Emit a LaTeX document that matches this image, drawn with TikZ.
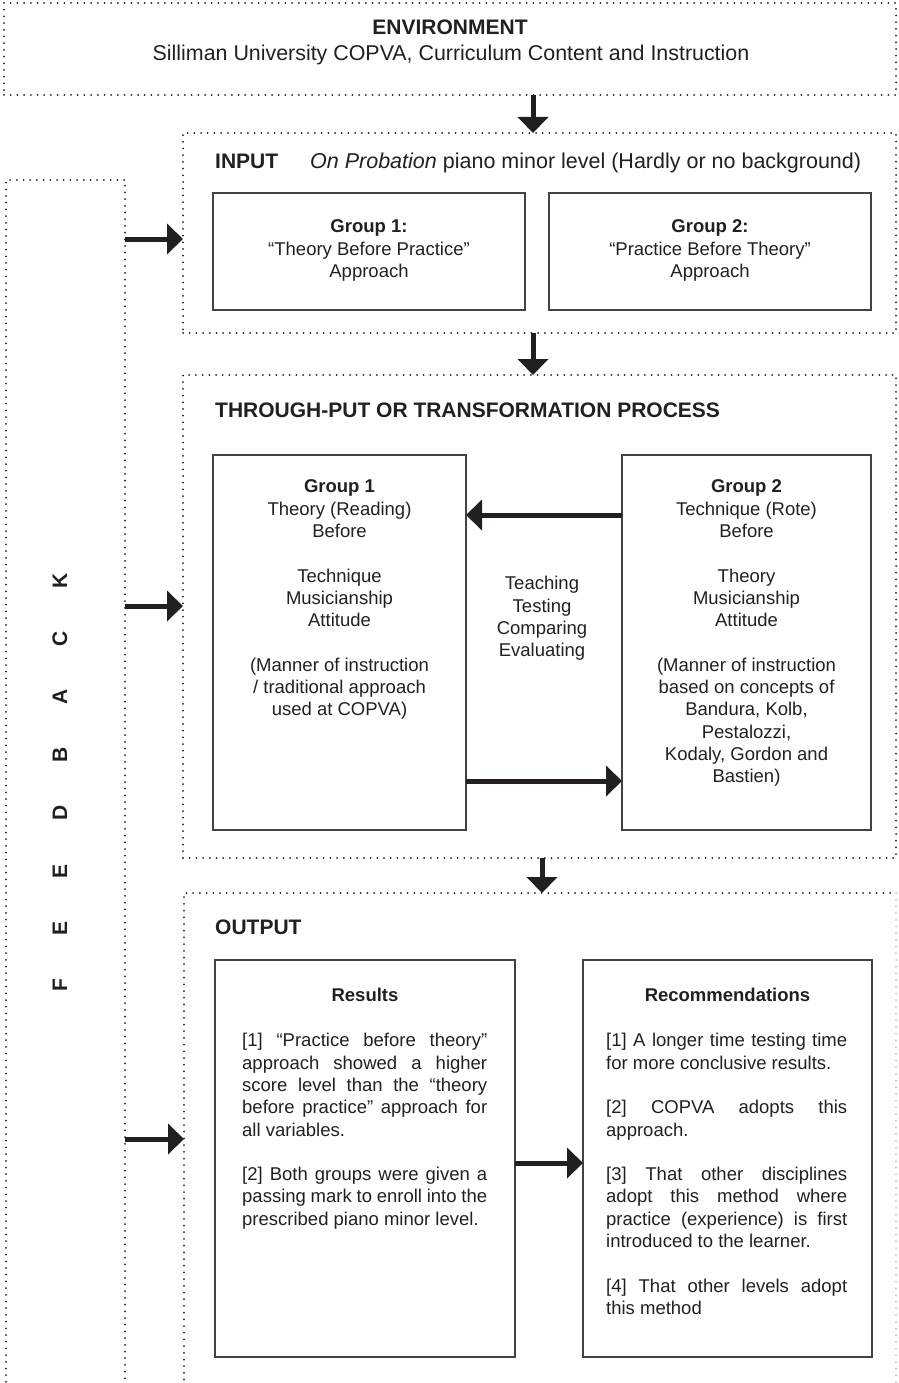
\documentclass[tikz,border=0pt]{standalone}
\usepackage{fontspec}
\setmainfont{Liberation Sans}
\usetikzlibrary{arrows.meta}
\definecolor{ink}{HTML}{231F20}
\tolerance=10000
\hyphenpenalty=10000
\begin{document}
\begin{tikzpicture}[x=1pt,y=-1pt,
  dotline/.style={draw=ink,line width=2pt,dash pattern=on 0pt off 6.7pt,line cap=round},
  dotbox/.style={dotline,inner sep=0,outer sep=0,anchor=north west},
  solidbox/.style={draw=ink!85,line width=1.3pt,inner sep=0,outer sep=0,anchor=north west},
  bigarrow/.style={draw=ink,line width=5pt,-{Triangle[length=16pt,width=30pt]}},
  body/.style={font=\fontsize{18.5}{22.3}\selectfont,inner sep=0,align=center,anchor=north,text=ink},
  head/.style={font=\fontsize{21}{25}\selectfont\bfseries,inner sep=0,anchor=base west,text=ink},
  fbl/.style={font=\fontsize{21}{24}\selectfont\bfseries,rotate=90,inner sep=0,text=ink},
  para/.style={font=\fontsize{18.5}{22.3}\selectfont,inner sep=0,text width=245pt,align=justify,anchor=north west,text=ink}]
\useasboundingbox (0,0) rectangle (898,1383);
\clip (0,0) rectangle (898,1383);

% dotted frames
\node[dotbox,minimum width=892pt,minimum height=92pt] (env) at (4,3) {};
\node[dotbox,minimum width=713pt,minimum height=200pt] (inp) at (183,133) {};
\node[dotbox,minimum width=713pt,minimum height=483pt] (thr) at (183,375) {};
\node[inner sep=0,outer sep=0,anchor=north west,minimum width=712pt,minimum height=500pt] (out) at (184,893) {};
\draw[dotline] (out.south west) -- (out.north west) -- (out.north east);
\draw[dotline,draw=ink!30] (out.north east) -- (out.south east);
\node[dotbox,minimum width=119pt,minimum height=1220pt] (fb) at (6,180) {};

% solid boxes
\node[solidbox,minimum width=312pt,minimum height=117pt] (ig1) at (213,193) {};
\node[solidbox,minimum width=322pt,minimum height=117pt] (ig2) at (549,193) {};
\node[solidbox,minimum width=253pt,minimum height=375pt] (tg1) at (213,455) {};
\node[solidbox,minimum width=249pt,minimum height=375pt] (tg2) at (622,455) {};
\node[solidbox,minimum width=300pt,minimum height=397pt] (res) at (215,960) {};
\node[solidbox,minimum width=289pt,minimum height=397pt] (rec) at (583,960) {};

% environment texts
\node[head,anchor=base] (envt) at (450,34.5) {ENVIRONMENT};
\node[font=\fontsize{21.4}{25}\selectfont,inner sep=0,anchor=base,text=ink] (envs) at (451,60.5) {Silliman University COPVA, Curriculum Content and Instruction};

% input
\node[head] (inpt) at (215,169) {INPUT};
\node[font=\fontsize{21.5}{26}\selectfont,inner sep=0,anchor=base west,text=ink] (inpd) at (310,169) {\textit{On Probation} piano minor level (Hardly or no background)};
\node[body] (ig1t) at (369,217) {\strut\textbf{Group 1:}\\“Theory Before Practice”\\Approach};
\node[body] (ig2t) at (710,217) {\strut\textbf{Group 2:}\\“Practice Before Theory”\\Approach};

% through-put
\node[head] (thrt) at (215,417.5) {THROUGH-PUT OR TRANSFORMATION PROCESS};
\node[body] (tg1t) at (339.5,477) {\strut\textbf{Group 1}\\Theory (Reading)\\Before\\[22.3pt]Technique\\Musicianship\\Attitude\\[22.3pt](Manner of instruction\\/ traditional approach\\used at COPVA)};
\node[body] (tg2t) at (746.5,477) {\strut\textbf{Group 2}\\Technique (Rote)\\Before\\[22.3pt]Theory\\Musicianship\\Attitude\\[22.3pt](Manner of instruction\\based on concepts of\\Bandura, Kolb,\\Pestalozzi,\\Kodaly, Gordon and\\Bastien)};
\node[body] (midt) at (542,574) {\strut Teaching\\Testing\\Comparing\\Evaluating};

% output
\node[head] (outt) at (215,934.5) {OUTPUT};
\node[body] (rest) at (365,986) {\strut\textbf{Results}};
\node[para] (resp) at (242,1031) {\strut[1] “Practice before theory”\linebreak approach showed a higher\linebreak score level than the “theory\linebreak before practice” approach for\linebreak all variables.\\[22.3pt]
[2] Both groups were given a\linebreak passing mark to enroll into the\linebreak prescribed piano minor level.\par};
\node[body] (rect) at (727.5,986) {\strut\textbf{Recommendations}};
\node[para,text width=241pt] (recp) at (606,1031) {\strut[1] A longer time testing time\linebreak for more conclusive results.\\[22.3pt]
[2] COPVA adopts this\linebreak approach.\\[22.3pt]
[3] That other disciplines\linebreak adopt this method where\linebreak practice (experience) is first\linebreak introduced to the learner.\\[22.3pt]
[4] That other levels adopt\linebreak this method\par};

% feedback letters
\node[fbl] (fbK) at (60,581) {K};
\node[fbl] (fbC) at (60,639) {C};
\node[fbl] (fbA) at (60,697) {A};
\node[fbl] (fbB) at (60,755) {B};
\node[fbl] (fbD) at (60,813) {D};
\node[fbl] (fbE1) at (60,871) {E};
\node[fbl] (fbE2) at (60,928) {E};
\node[fbl] (fbF) at (60,985) {F};

% arrows
\coordinate (ax1) at (533,0);
\coordinate (ax2) at (542,0);
\draw[bigarrow] (env.south -| ax1) -- (inp.north -| ax1);
\draw[bigarrow] (inp.south -| ax1) -- (thr.north -| ax1);
\draw[bigarrow] (thr.south -| ax2) -- (out.north -| ax2);
\coordinate (fy1) at (0,239);
\coordinate (fy2) at (0,606);
\coordinate (fy3) at (0,1139);
\draw[bigarrow] (fb.east |- fy1) -- (inp.west |- fy1);
\draw[bigarrow] (fb.east |- fy2) -- (thr.west |- fy2);
\draw[bigarrow] (fb.east |- fy3) -- (out.west |- fy3);
\coordinate (ty1) at (0,515);
\coordinate (ty2) at (0,781);
\draw[bigarrow] (tg2.west |- ty1) -- (tg1.east |- ty1);
\draw[bigarrow] (tg1.east |- ty2) -- (tg2.west |- ty2);
\coordinate (oy) at (0,1163);
\draw[bigarrow] (res.east |- oy) -- (rec.west |- oy);
\end{tikzpicture}
\end{document}
